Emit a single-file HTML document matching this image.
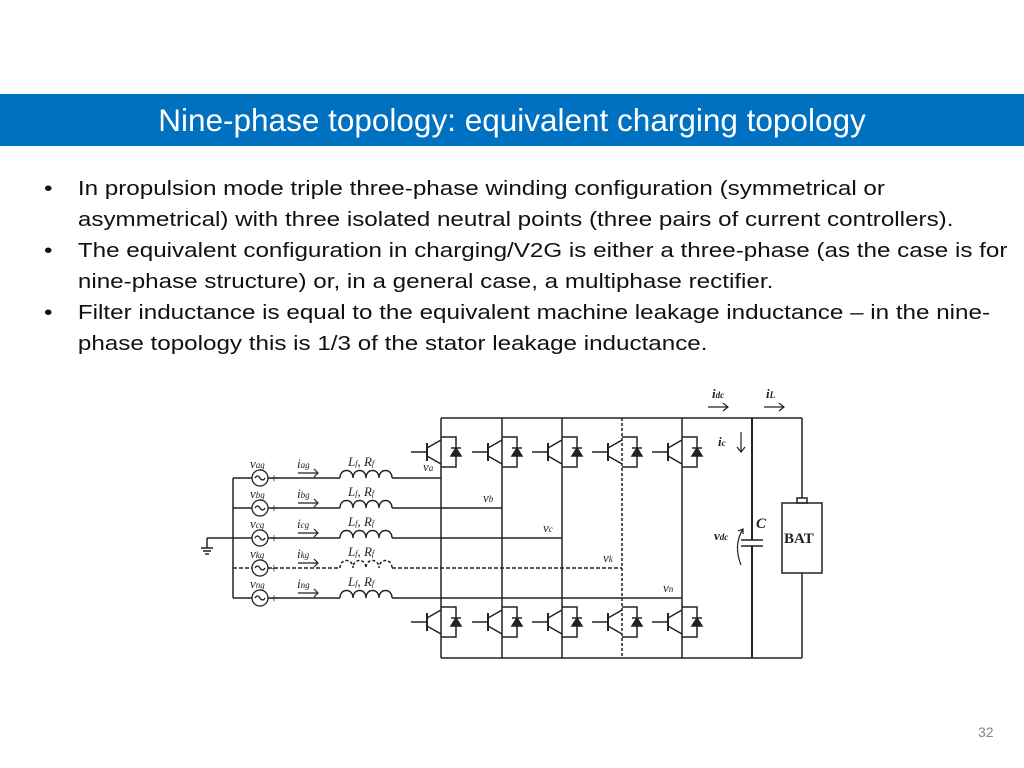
<!DOCTYPE html>
<html><head><meta charset="utf-8"><style>
body{margin:0;width:1024px;height:768px;background:#fff;overflow:hidden;position:relative;font-family:"Liberation Sans",sans-serif}
.hd{position:absolute;left:0;top:94px;width:1024px;height:52px;background:#0070c0;color:#fff;font-size:31.5px;text-align:center;line-height:52px}
ul{position:absolute;left:44px;top:174px;margin:0;padding:0;list-style:none;width:800px;transform:scaleX(1.21);transform-origin:0 0}
li{position:relative;padding-left:28px;font-size:20px;line-height:31px;color:#111;white-space:nowrap}
li:before{content:"•";position:absolute;left:0;top:0}
.pg{position:absolute;left:978px;top:724px;font-size:14px;color:#888}
svg{position:absolute;left:0;top:0}
</style></head><body>
<div class="hd">Nine-phase topology: equivalent charging topology</div>
<ul>
<li>In propulsion mode triple three-phase winding configuration (symmetrical or<br>asymmetrical) with three isolated neutral points (three pairs of current controllers).</li>
<li>The equivalent configuration in charging/V2G is either a three-phase (as the case is for<br>nine-phase structure) or, in a general case, a multiphase rectifier.</li>
<li>Filter inductance is equal to the equivalent machine leakage inductance – in the nine-<br>phase topology this is 1/3 of the stator leakage inductance.</li>
</ul>
<div class="pg">32</div>
<svg width="1024" height="768" font-family="Liberation Serif,serif" font-style="italic" font-size="13">
<defs>
<g id="sw" stroke="#222" stroke-width="1.5" fill="none">
<line x1="-30" y1="0" x2="-14" y2="0"/>
<line x1="-14" y1="-9" x2="-14" y2="9" stroke-width="2"/>
<line x1="-14" y1="-4" x2="0" y2="-12"/>
<line x1="-14" y1="4" x2="0" y2="12"/>
<polyline points="0,-15 15,-15 15,15 0,15"/>
<polygon points="10,4 20,4 15,-4" fill="#222"/>
<line x1="10" y1="-4" x2="20" y2="-4"/>
</g>
<g id="ind" stroke="#222" stroke-width="1.5" fill="none">
<path d="M0,0 c0,-10 13,-10 13,0 c0,-10 13,-10 13,0 c0,-10 13,-10 13,0 c0,-10 13,-10 13,0"/>
</g>
<g id="src" stroke="#222" stroke-width="1.3" fill="none">
<circle cx="0" cy="0" r="8"/><path d="M-5,0 q2.5,-4 5,0 q2.5,4 5,0"/>
</g>
</defs>
<g stroke="#222" stroke-width="1.5" fill="none">
<line x1="441" y1="418" x2="802" y2="418"/>
<line x1="441" y1="658" x2="802" y2="658"/>
<line x1="441" y1="418" x2="441" y2="658"/>
<line x1="502" y1="418" x2="502" y2="658"/>
<line x1="562" y1="418" x2="562" y2="658"/>
<line x1="622" y1="418" x2="622" y2="658" stroke-dasharray="3,2"/>
<line x1="682" y1="418" x2="682" y2="658"/>
<line x1="752" y1="418" x2="752" y2="540" stroke-width="2"/>
<line x1="752" y1="546" x2="752" y2="658" stroke-width="2"/>
<line x1="741" y1="540" x2="763" y2="540"/><line x1="741" y1="546" x2="763" y2="546"/>
<line x1="802" y1="418" x2="802" y2="498"/><line x1="802" y1="573" x2="802" y2="658"/>
<rect x="782" y="503" width="40" height="70"/><rect x="797" y="498" width="10" height="5"/>
<line x1="233" y1="478" x2="233" y2="598"/>
<line x1="207" y1="538" x2="233" y2="538"/>
<line x1="207" y1="538" x2="207" y2="548"/>
<line x1="201" y1="548" x2="213" y2="548"/><line x1="203" y1="551" x2="211" y2="551"/><line x1="205" y1="554" x2="209" y2="554"/>
<line x1="233" y1="478" x2="252" y2="478"/><line x1="268" y1="478" x2="340" y2="478"/><line x1="392" y1="478" x2="441" y2="478"/>
<line x1="233" y1="508" x2="252" y2="508"/><line x1="268" y1="508" x2="340" y2="508"/><line x1="392" y1="508" x2="502" y2="508"/>
<line x1="233" y1="538" x2="252" y2="538"/><line x1="268" y1="538" x2="340" y2="538"/><line x1="392" y1="538" x2="562" y2="538"/>
<line x1="233" y1="568" x2="252" y2="568" stroke-dasharray="4,2"/><line x1="268" y1="568" x2="340" y2="568" stroke-dasharray="4,2"/><line x1="392" y1="568" x2="622" y2="568" stroke-dasharray="4,2"/>
<line x1="233" y1="598" x2="252" y2="598"/><line x1="268" y1="598" x2="340" y2="598"/><line x1="392" y1="598" x2="682" y2="598"/>
<g stroke-width="1.2">
<path d="M298,473h20m-4,-4l4,4l-4,4"/><path d="M298,503h20m-4,-4l4,4l-4,4"/><path d="M298,533h20m-4,-4l4,4l-4,4"/><path d="M298,563h20m-4,-4l4,4l-4,4"/><path d="M298,593h20m-4,-4l4,4l-4,4"/>
<path d="M708,407h20m-5,-4l5,4l-5,4"/><path d="M764,407h20m-5,-4l5,4l-5,4"/>
<path d="M741,432v20m-4,-5l4,5l4,-5"/>
<path d="M741,565 q-8,-20 2,-36m-5,2l5,-2l0,5"/>
</g>
</g>
<use href="#ind" x="340" y="478"/><use href="#ind" x="340" y="508"/><use href="#ind" x="340" y="538"/><use href="#ind" x="340" y="568" stroke-dasharray="3,2"/><use href="#ind" x="340" y="598"/>
<use href="#src" x="260" y="478"/><use href="#src" x="260" y="508"/><use href="#src" x="260" y="538"/><use href="#src" x="260" y="568"/><use href="#src" x="260" y="598"/>
<use href="#sw" x="441" y="452"/><use href="#sw" x="502" y="452"/><use href="#sw" x="562" y="452"/><use href="#sw" x="622" y="452"/><use href="#sw" x="682" y="452"/>
<use href="#sw" x="441" y="622"/><use href="#sw" x="502" y="622"/><use href="#sw" x="562" y="622"/><use href="#sw" x="622" y="622"/><use href="#sw" x="682" y="622"/>
<g fill="#222">
<text x="250" y="468">v<tspan font-size="9">ag</tspan></text><text x="250" y="498">v<tspan font-size="9">bg</tspan></text><text x="250" y="528">v<tspan font-size="9">cg</tspan></text><text x="250" y="558">v<tspan font-size="9">kg</tspan></text><text x="250" y="588">v<tspan font-size="9">ng</tspan></text>
<g font-style="normal" font-size="14"><text x="270" y="483">+</text><text x="270" y="513">+</text><text x="270" y="543">+</text><text x="270" y="573">+</text><text x="270" y="603">+</text></g>
<text x="297" y="468">i<tspan font-size="9">ag</tspan></text><text x="297" y="498">i<tspan font-size="9">bg</tspan></text><text x="297" y="528">i<tspan font-size="9">cg</tspan></text><text x="297" y="558">i<tspan font-size="9">kg</tspan></text><text x="297" y="588">i<tspan font-size="9">ng</tspan></text>
<text x="348" y="466">L<tspan font-size="8">f</tspan>, R<tspan font-size="8">f</tspan></text><text x="348" y="496">L<tspan font-size="8">f</tspan>, R<tspan font-size="8">f</tspan></text><text x="348" y="526">L<tspan font-size="8">f</tspan>, R<tspan font-size="8">f</tspan></text><text x="348" y="556">L<tspan font-size="8">f</tspan>, R<tspan font-size="8">f</tspan></text><text x="348" y="586">L<tspan font-size="8">f</tspan>, R<tspan font-size="8">f</tspan></text>
<text x="423" y="471">v<tspan font-size="9">a</tspan></text><text x="483" y="502">v<tspan font-size="9">b</tspan></text><text x="543" y="532">v<tspan font-size="9">c</tspan></text><text x="603" y="562">v<tspan font-size="9">k</tspan></text><text x="663" y="592">v<tspan font-size="9">n</tspan></text>
<text x="712" y="398" font-weight="bold">i<tspan font-size="9">dc</tspan></text><text x="766" y="398" font-weight="bold">i<tspan font-size="9">L</tspan></text>
<text x="718" y="446" font-weight="bold">i<tspan font-size="9">c</tspan></text>
<text x="714" y="540" font-weight="bold">v<tspan font-size="9">dc</tspan></text>
<text x="756" y="528" font-size="15" font-weight="bold">C</text>
<text x="784" y="543" font-style="normal" font-weight="bold" font-size="15">BAT</text>
</g>
</svg>
</body></html>
